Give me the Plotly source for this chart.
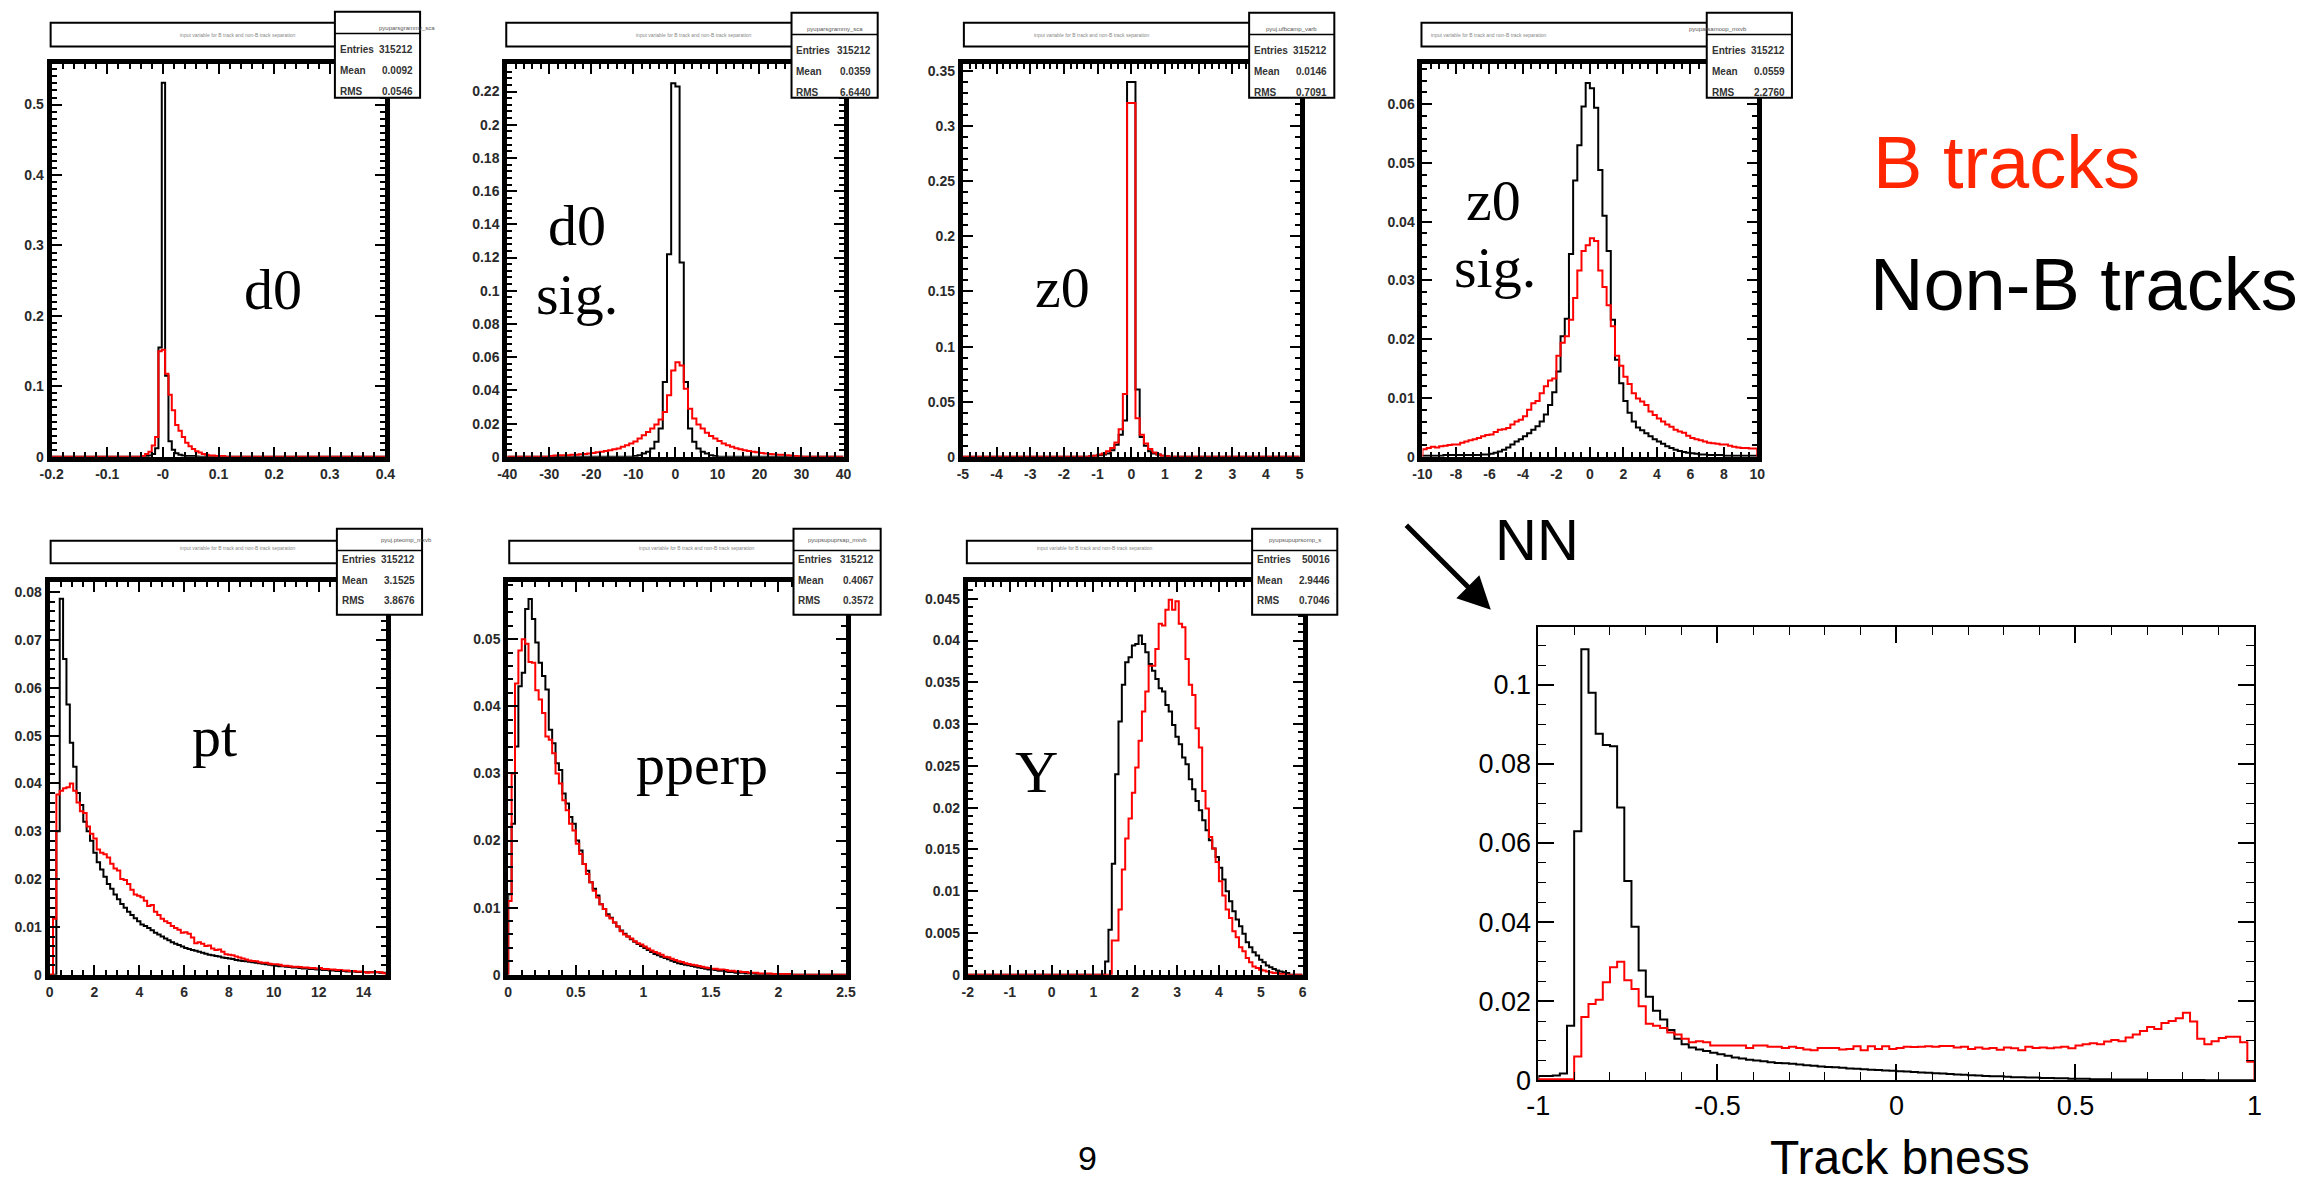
import plotly.graph_objects as go

W, H = 2316, 1193

# ---------------- data (normalised histograms, Non-B = black, B = red) ----------------
# d0 : bins of width 0.006 starting at -0.038
d0_start, d0_width = -0.038, 0.006
d0_nonb = [0, 0.001, 0.002, 0.004, 0.012, 0.155, 0.531, 0.115, 0.022, 0.01, 0.005, 0.003, 0.002,
           0.001, 0.001, 0.001, 0.0005, 0, 0, 0, 0, 0, 0, 0, 0]
d0_b = [0.001, 0.004, 0.007, 0.016, 0.028, 0.15, 0.152, 0.118, 0.088, 0.066, 0.045, 0.037, 0.028,
        0.02, 0.015, 0.011, 0.008, 0.006, 0.004, 0.003, 0.002, 0.002, 0.001, 0.001, 0.001]

# d0 significance : bins of width 1 starting at -30
d0sig_start, d0sig_width = -30, 1
d0sig_nonb = [0] * 20 + [0.0005, 0.001, 0.002, 0.003, 0.005, 0.009, 0.017, 0.045, 0.122, 0.225,
                         0.223, 0.117, 0.045, 0.017, 0.009, 0.005, 0.003, 0.002, 0.001, 0.0005] + [0] * 20
d0sig_b = [0.0005, 0.0008, 0.001, 0.001, 0.001, 0.0012, 0.0013, 0.0015, 0.0017, 0.002,
           0.0023, 0.0027, 0.003, 0.0035, 0.004, 0.0045, 0.005, 0.006, 0.007, 0.008,
           0.0092, 0.011, 0.013, 0.015, 0.017, 0.0195, 0.0225, 0.027, 0.037, 0.052,
           0.057, 0.055, 0.041, 0.029, 0.023, 0.0195, 0.017, 0.0145, 0.0125, 0.011,
           0.0095, 0.008, 0.007, 0.006, 0.0052, 0.0045, 0.004, 0.0035, 0.003, 0.0027,
           0.0023, 0.002, 0.0017, 0.0015, 0.0013, 0.0012, 0.001, 0.0008, 0.0005, 0.0003]

# z0 : bins of width 0.125 starting at -1.25
z0_start, z0_width = -1.25, 0.125
z0_nonb = [0.0005, 0.001, 0.0015, 0.002, 0.003, 0.006, 0.011, 0.02, 0.033, 0.34,
           0.34, 0.061, 0.018, 0.01, 0.005, 0.003, 0.002, 0.001, 0.0005, 0]
z0_b = [0.0005, 0.001, 0.002, 0.003, 0.005, 0.008, 0.013, 0.025, 0.057, 0.321,
        0.321, 0.035, 0.02, 0.012, 0.007, 0.004, 0.002, 0.001, 0.0005, 0]

# z0 significance : bins of width 0.25 starting at -10
z0sig_start, z0sig_width = -10, 0.25
z0sig_nonb = [0.0002, 0.0002, 0.0002, 0.0002, 0.0002, 0.0003, 0.0003, 0.0003, 0.0003, 0.0003,
              0.0003, 0.0003, 0.0003, 0.0003, 0.0004, 0.0004, 0.0005, 0.0007, 0.0009, 0.0012,
              0.0016, 0.0021, 0.0026, 0.003, 0.0035, 0.004, 0.0046, 0.0052, 0.006, 0.0072,
              0.0088, 0.011, 0.0145, 0.0205, 0.0235, 0.0345, 0.047, 0.053, 0.0596, 0.0636,
              0.0627, 0.0594, 0.0488, 0.041, 0.035, 0.0233, 0.0165, 0.0125, 0.0095, 0.0075,
              0.006, 0.005, 0.0045, 0.004, 0.0035, 0.003, 0.0026, 0.0022, 0.0018, 0.0015,
              0.0012, 0.001, 0.0008, 0.0007, 0.0006, 0.0005, 0.0004, 0.0004, 0.0003, 0.0003,
              0.0003, 0.0003, 0.0002, 0.0002, 0.0002, 0.0002, 0.0002, 0.0002, 0.0002, 0.0002]
z0sig_b = [0.0013, 0.0015, 0.0017, 0.0016, 0.0018, 0.0019, 0.002, 0.0021, 0.0021, 0.0024,
           0.0026, 0.0028, 0.003, 0.0032, 0.0035, 0.0037, 0.0038, 0.0042, 0.0046, 0.0047,
           0.0049, 0.0055, 0.006, 0.0063, 0.0069, 0.008, 0.0091, 0.0095, 0.0108, 0.012,
           0.013, 0.0133, 0.0172, 0.0194, 0.0205, 0.0233, 0.027, 0.0317, 0.035, 0.036,
           0.0372, 0.0367, 0.0317, 0.0289, 0.0258, 0.0222, 0.0172, 0.0155, 0.0136, 0.0124,
           0.0108, 0.0099, 0.0094, 0.0088, 0.0077, 0.0071, 0.0065, 0.006, 0.0055, 0.0051,
           0.0046, 0.0043, 0.0041, 0.0036, 0.0032, 0.003, 0.0028, 0.0026, 0.0024, 0.0023,
           0.0022, 0.0021, 0.0021, 0.0019, 0.0017, 0.0016, 0.0015, 0.0015, 0.0014, 0.0014]

# pt : bins of width 0.15 starting at 0
pt_start, pt_width = 0, 0.15
pt_nonb = [0, 0, 0.030, 0.0786, 0.066, 0.0565, 0.0485, 0.0435, 0.038, 0.0355,
           0.032, 0.030, 0.028, 0.0255, 0.0235, 0.022, 0.0205, 0.019, 0.018, 0.0168,
           0.0158, 0.0148, 0.014, 0.0132, 0.0125, 0.0118, 0.0112, 0.0105, 0.0102, 0.0098,
           0.0093, 0.0088, 0.0084, 0.008, 0.0076, 0.0072, 0.0068, 0.0065, 0.0062, 0.0059,
           0.0056, 0.0054, 0.0052, 0.005, 0.0048, 0.0046, 0.0044, 0.0042, 0.0041, 0.0039,
           0.0038, 0.0036, 0.0035, 0.0034, 0.0033, 0.0031, 0.003, 0.0029, 0.0028, 0.0027,
           0.0026, 0.0025, 0.0024, 0.0023, 0.0022, 0.0021, 0.002, 0.0019, 0.0018, 0.0018,
           0.0017, 0.0016, 0.0015, 0.0015, 0.0014, 0.0013, 0.0013, 0.0012, 0.0012, 0.0011,
           0.0011, 0.001, 0.001, 0.0009, 0.0009, 0.0008, 0.0008, 0.0008, 0.0007, 0.0007,
           0.0007, 0.0006, 0.0006, 0.0006, 0.0005, 0.0005, 0.0005, 0.0005, 0.0004, 0.0004]
pt_b = [0, 0.0117, 0.0377, 0.0385, 0.039, 0.0392, 0.040, 0.0385, 0.036, 0.0342,
        0.0338, 0.031, 0.0295, 0.0285, 0.0262, 0.0255, 0.0252, 0.0245, 0.0232, 0.0222,
        0.0218, 0.0200, 0.0198, 0.019, 0.0178, 0.0168, 0.0165, 0.0162, 0.0155, 0.0144,
        0.0146, 0.0132, 0.0125, 0.0117, 0.0112, 0.0108, 0.0102, 0.0098, 0.0094, 0.0088,
        0.0089, 0.0086, 0.0078, 0.0066, 0.0068, 0.0065, 0.006, 0.0061, 0.0055, 0.0052,
        0.0053, 0.0048, 0.0043, 0.0042, 0.0041, 0.0038, 0.0036, 0.0034, 0.0032, 0.003,
        0.0029, 0.0028, 0.0026, 0.0025, 0.0025, 0.0023, 0.0022, 0.0022, 0.0021, 0.0019,
        0.0019, 0.0018, 0.0017, 0.0017, 0.0016, 0.0015, 0.0015, 0.0014, 0.0014, 0.0013,
        0.0014, 0.0012, 0.0012, 0.0011, 0.0011, 0.001, 0.001, 0.0009, 0.0009, 0.0008,
        0.0008, 0.0007, 0.0007, 0.0006, 0.0004, 0.0005, 0.0005, 0.0006, 0.0005, 0.0003]

# pperp : bins of width 0.025 starting at 0
pperp_start, pperp_width = 0, 0.025
pperp_nonb = [0.012, 0.0225, 0.034, 0.043, 0.045, 0.0545, 0.056, 0.053, 0.0495, 0.0465,
              0.0445, 0.0425, 0.0365, 0.0345, 0.0315, 0.0305, 0.027, 0.0255, 0.0235, 0.0225,
              0.020, 0.0185, 0.0165, 0.0155, 0.0138, 0.0128, 0.0118, 0.0105, 0.0098, 0.009,
              0.0085, 0.0078, 0.0072, 0.0066, 0.0061, 0.0057, 0.0053, 0.0049, 0.0046, 0.0043,
              0.004, 0.0037, 0.0034, 0.0031, 0.0029, 0.0027, 0.0025, 0.0023, 0.0021, 0.0019,
              0.0017, 0.0016, 0.0015, 0.0014, 0.0013, 0.0012, 0.0011, 0.001, 0.0009, 0.0008,
              0.0008, 0.0007, 0.0006, 0.0006, 0.0005, 0.0004, 0.0004, 0.0003, 0.0003, 0.0003,
              0.0002, 0.0002, 0.0002, 0.0001, 0.0001, 0.0001, 0.0001, 0.0001, 0.0001, 0.0001,
              0, 0, 0, 0, 0, 0, 0, 0, 0, 0, 0, 0, 0, 0, 0, 0, 0, 0, 0, 0]
pperp_b = [0.011, 0.03, 0.0434, 0.0483, 0.050, 0.0493, 0.0466, 0.0465, 0.0424, 0.041,
           0.039, 0.0355, 0.035, 0.033, 0.030, 0.0285, 0.026, 0.0245, 0.0225, 0.0215,
           0.0195, 0.018, 0.0165, 0.015, 0.0138, 0.0125, 0.0115, 0.0105, 0.0098, 0.0088,
           0.0084, 0.0078, 0.0072, 0.0065, 0.006, 0.0057, 0.0054, 0.005, 0.0047, 0.0045,
           0.0042, 0.0039, 0.0036, 0.0034, 0.0032, 0.003, 0.0027, 0.0026, 0.0024, 0.0022,
           0.002, 0.0019, 0.0017, 0.0016, 0.0015, 0.0014, 0.0013, 0.0012, 0.0011, 0.001,
           0.0009, 0.0009, 0.0008, 0.0008, 0.0007, 0.0006, 0.0006, 0.0005, 0.0005, 0.0004,
           0.0004, 0.0003, 0.0003, 0.0003, 0.0002, 0.0002, 0.0002, 0.0002, 0.0001, 0.0001,
           0.0001, 0.0001, 0.0001, 0.0001, 0, 0, 0, 0, 0, 0, 0, 0, 0, 0, 0, 0, 0, 0, 0, 0]

# Y : bins of width 0.08 starting at -2
Y_start, Y_width = -2, 0.08
Y_nonb = [0] * 41 + [0.0016, 0.0054, 0.0133, 0.024, 0.0303, 0.0347, 0.0374, 0.038, 0.0394, 0.0396,
                     0.0406, 0.0396, 0.0386, 0.0372, 0.0364, 0.0354, 0.0343, 0.0339, 0.0323, 0.0315,
                     0.0299, 0.0285, 0.0276, 0.026, 0.0252, 0.0234, 0.0222, 0.0208, 0.0197, 0.0185,
                     0.0173, 0.0161, 0.0151, 0.0141, 0.0128, 0.0114, 0.01, 0.0088, 0.0076, 0.0066,
                     0.0058, 0.0049, 0.0039, 0.0033, 0.0027, 0.0023, 0.0018, 0.0015, 0.0011, 0.0009,
                     0.0007, 0.0005, 0.0004, 0.0003, 0.0002] + [0] * 4
Y_b = [0] * 43 + [0.0041, 0.0041, 0.0078, 0.0126, 0.0163, 0.0187, 0.0218, 0.0248, 0.028, 0.0315,
                  0.0339, 0.037, 0.037, 0.039, 0.042, 0.0418, 0.0437, 0.0449, 0.0437, 0.0447,
                  0.042, 0.0416, 0.0378, 0.0347, 0.0335, 0.0295, 0.0272, 0.022, 0.0199, 0.0165,
                  0.0151, 0.0135, 0.0112, 0.0095, 0.0078, 0.0068, 0.0052, 0.0045, 0.0033, 0.0028,
                  0.002, 0.0015, 0.001, 0.0008, 0.0006, 0.0005, 0.0004, 0.0003, 0.0002, 0.0002,
                  0.0001, 0.0001] + [0] * 5

# Track bness (NN output) : bins of width 0.02 starting at -1
bness_start, bness_width = -1, 0.02
bness_nonb = [0.0011, 0.0011, 0.0012, 0.0017, 0.0138, 0.063, 0.109, 0.098, 0.0876, 0.0848,
              0.0845, 0.069, 0.0504, 0.0388, 0.0278, 0.0211, 0.0176, 0.0154, 0.0127, 0.0105,
              0.0091, 0.0083, 0.0078, 0.0074, 0.007, 0.0066, 0.0062, 0.0058, 0.0055, 0.0052,
              0.005, 0.0048, 0.0046, 0.0044, 0.0043, 0.0042, 0.004, 0.0038, 0.0037, 0.0035,
              0.0034, 0.0033, 0.0032, 0.003, 0.0029, 0.0028, 0.0027, 0.0026, 0.0025, 0.0024,
              0.0023, 0.0022, 0.0021, 0.002, 0.0019, 0.0018, 0.0017, 0.0016, 0.0015, 0.0014,
              0.0013, 0.0012, 0.0011, 0.001, 0.001, 0.0009, 0.0008, 0.0008, 0.0007, 0.0007,
              0.0006, 0.0006, 0.0005, 0.0005, 0.0004, 0.0004, 0.0004, 0.0003, 0.0003, 0.0003,
              0.0002, 0.0002, 0.0002, 0.0002, 0.0002, 0.0001, 0.0001, 0.0001, 0.0001, 0.0001,
              0.0001, 0.0001, 0.0001, 0, 0, 0, 0, 0, 0, 0]
bness_b = [0.0003, 0.0003, 0.0003, 0.0003, 0.0003, 0.006, 0.016, 0.0193, 0.0204, 0.0248,
           0.0286, 0.03, 0.0253, 0.0231, 0.0187, 0.0143, 0.0138, 0.0132, 0.0121, 0.0116,
           0.0105, 0.0096, 0.0099, 0.0096, 0.0088, 0.0088, 0.0088, 0.0088, 0.0088, 0.0082,
           0.0088, 0.0088, 0.0085, 0.0085, 0.0082, 0.0085, 0.0082, 0.0078, 0.0076, 0.0082,
           0.0082, 0.0082, 0.0078, 0.0079, 0.0086, 0.0076, 0.0086, 0.0079, 0.0086, 0.0079,
           0.0082, 0.0085, 0.0084, 0.0085, 0.0086, 0.0085, 0.0087, 0.0087, 0.0083, 0.0085,
           0.0079, 0.0083, 0.008, 0.0082, 0.0077, 0.0083, 0.0081, 0.0076, 0.0085, 0.0082,
           0.0083, 0.0081, 0.0083, 0.0085, 0.0081, 0.0088, 0.0091, 0.0094, 0.0091, 0.0098,
           0.0102, 0.0099, 0.0108, 0.0116, 0.0125, 0.0135, 0.013, 0.0145, 0.015, 0.0157,
           0.0171, 0.0149, 0.0105, 0.0091, 0.0099, 0.0107, 0.011, 0.011, 0.0096, 0.0047]

# tick labels
d0_xticks = [-0.2, -0.1, 0, 0.1, 0.2, 0.3, 0.4]
d0_xlabels = ["-0.2", "-0.1", "-0", "0.1", "0.2", "0.3", "0.4"]
d0sig_xticks = [-40, -30, -20, -10, 0, 10, 20, 30, 40]
d0sig_xlabels = ["-40", "-30", "-20", "-10", "0", "10", "20", "30", "40"]
z0_xticks = [-5, -4, -3, -2, -1, 0, 1, 2, 3, 4, 5]
z0_xlabels = ["-5", "-4", "-3", "-2", "-1", "0", "1", "2", "3", "4", "5"]
z0sig_xticks = [-10, -8, -6, -4, -2, 0, 2, 4, 6, 8, 10]
z0sig_xlabels = ["-10", "-8", "-6", "-4", "-2", "0", "2", "4", "6", "8", "10"]
pt_xticks = [0, 2, 4, 6, 8, 10, 12, 14]
pt_xlabels = ["0", "2", "4", "6", "8", "10", "12", "14"]
pperp_xticks = [0, 0.5, 1, 1.5, 2, 2.5]
pperp_xlabels = ["0", "0.5", "1", "1.5", "2", "2.5"]
Y_xticks = [-2, -1, 0, 1, 2, 3, 4, 5, 6]
Y_xlabels = ["-2", "-1", "0", "1", "2", "3", "4", "5", "6"]
bness_xticks = [-1, -0.5, 0, 0.5, 1]
bness_xlabels = ["-1", "-0.5", "0", "0.5", "1"]

# statistics boxes
stat_names = ["pyuparsgrammy_sca", "pyuparsgrammy_sca", "pyuj.ufbcamp_varb", "pyuparsamoop_mxvb",
              "pyuj.pteomp_mxvb", "pyupsupuprsap_mxvb", "pyupsupuprsomp_s"]
stat_entries = ["315212", "315212", "315212", "315212", "315212", "315212", "50016"]
stat_means = ["0.0092", "0.0359", "0.0146", "0.0559", "3.1525", "0.4067", "2.9446"]
stat_rms = ["0.0546", "6.6440", "0.7091", "2.2760", "3.8676", "0.3572", "0.7046"]

# ---------------- helpers ----------------
def fx(x):
    return x / W


def fy(y):
    return 1 - y / H


def steps(start, width, vals, lo, hi):
    xs, ys = [lo], [0]
    for i, v in enumerate(vals):
        xs.append(start + i * width)
        ys.append(v)
    xs.append(start + len(vals) * width)
    ys.append(0)
    xs.append(hi)
    ys.append(0)
    return xs, ys


# panel layout: (pixel box left,right,top,bottom), x range, y range, ticks
panels = [
    dict(box=(40, 377, 64, 462), xr=[-0.2, 0.4], yr=[0, 0.5574], xt=d0_xticks, xl=d0_xlabels, xm=0.02, yd=0.1, ym=0.01,
         data=(d0_start, d0_width, d0_nonb, d0_b)),
    dict(box=(500, 839.5, 64, 462), xr=[-40, 40], yr=[0, 0.2365], xt=d0sig_xticks, xl=d0sig_xlabels, xm=2, yd=0.02, ym=0.004,
         data=(d0sig_start, d0sig_width, d0sig_nonb, d0sig_b)),
    dict(box=(960, 1300, 64, 462), xr=[-5, 5], yr=[0, 0.3563], xt=z0_xticks, xl=z0_xlabels, xm=0.2, yd=0.05, ym=0.01,
         data=(z0_start, z0_width, z0_nonb, z0_b)),
    dict(box=(1424, 1762, 64, 462), xr=[-10, 10], yr=[0, 0.0668], xt=z0sig_xticks, xl=z0sig_xlabels, xm=0.5, yd=0.01, ym=0.002,
         data=(z0sig_start, z0sig_width, z0sig_nonb, z0sig_b)),
    dict(box=(38, 377.5, 589, 987), xr=[0, 15], yr=[0, 0.0821], xt=pt_xticks, xl=pt_xlabels, xm=0.5, yd=0.01, ym=0.002,
         data=(pt_start, pt_width, pt_nonb, pt_b)),
    dict(box=(501, 842, 589, 987), xr=[0, 2.5], yr=[0, 0.0585], xt=pperp_xticks, xl=pperp_xlabels, xm=0.1, yd=0.01, ym=0.002,
         data=(pperp_start, pperp_width, pperp_nonb, pperp_b)),
    dict(box=(965, 1303, 589, 987), xr=[-2, 6], yr=[0, 0.047], xt=Y_xticks, xl=Y_xlabels, xm=0.2, yd=0.005, ym=0.001,
         data=(Y_start, Y_width, Y_nonb, Y_b)),
    dict(box=(1541, 2264, 635, 1094), xr=[-1, 1], yr=[0, 0.1145], xt=bness_xticks, xl=bness_xlabels, xm=0.1, yd=0.02, ym=0.005,
         data=(bness_start, bness_width, bness_nonb, bness_b)),
]

fig = go.Figure()
layout = dict(width=W, height=H, margin=dict(l=0, r=0, t=0, b=0), autosize=False,
              paper_bgcolor="white", plot_bgcolor="white", showlegend=False)

for k, p in enumerate(panels):
    n = k + 1
    xa = "x" if n == 1 else f"x{n}"
    ya = "y" if n == 1 else f"y{n}"
    big = (n == 8)
    l, r, t, b = p["box"]
    start, width, nonb, bb = p["data"]
    for vals, col in ((nonb, "black"), (bb, "#ff0000")):
        xs, ys = steps(start, width, vals, p["xr"][0], p["xr"][1])
        fig.add_trace(go.Scatter(x=xs, y=ys, mode="lines", line=dict(color=col, width=2, shape="hv"),
                                 xaxis=xa, yaxis=ya, hoverinfo="skip"))
    lw = 2 if big else 5
    tl, ml = (16, 8) if big else (10, 5)
    tfont = dict(family="Liberation Sans", size=27, color="black") if big else \
        dict(family="Liberation Sans", size=14, color="#2a2a2a", weight="bold")
    xkey = "xaxis" if n == 1 else f"xaxis{n}"
    ykey = "yaxis" if n == 1 else f"yaxis{n}"
    layout[xkey] = dict(domain=[fx(l), fx(r)], range=p["xr"], anchor=ya, showgrid=False, zeroline=False,
                        showline=True, linewidth=lw, linecolor="black", mirror="ticks",
                        ticks="inside", ticklen=tl, tickwidth=2 if not big else 1.5, tickcolor="black",
                        tickmode="array", tickvals=p["xt"], ticktext=p["xl"], tickfont=tfont,
                        minor=dict(ticks="inside", ticklen=ml, tickwidth=1.5 if not big else 1.2, tickcolor="black",
                                   tickmode="linear", tick0=0, dtick=p["xm"], showgrid=False),
                        fixedrange=True)
    layout[ykey] = dict(domain=[fy(b), fy(t)], range=p["yr"], anchor=xa, showgrid=False, zeroline=False,
                        showline=True, linewidth=lw, linecolor="black", mirror="ticks",
                        ticks="inside", ticklen=tl, tickwidth=2 if not big else 1.5, tickcolor="black",
                        tickmode="linear", tick0=0, dtick=p["yd"], tickfont=tfont,
                        minor=dict(ticks="inside", ticklen=ml, tickwidth=1.5 if not big else 1.2, tickcolor="black",
                                   tickmode="linear", tick0=0, dtick=p["ym"], showgrid=False),
                        fixedrange=True)

# ---------------- ROOT title boxes and stat boxes ----------------
shapes = []
annotations = []

title_boxes = [(39, 336, 22, 46), (499, 796, 22, 46), (961, 1259, 22, 46), (1423, 1720, 22, 46),
               (39, 337, 547, 570), (502, 800, 547, 570), (964, 1262, 547, 570)]
stat_boxes = [(326, 412, 11, 98), (787, 874, 12, 98), (1249, 1335, 12, 98), (1711, 1797, 12, 98),
              (328, 414, 535, 622), (789, 877, 535, 622), (1252, 1338, 535, 622)]

for i, (l, r, t, b) in enumerate(title_boxes):
    shapes.append(dict(type="rect", xref="paper", yref="paper", x0=fx(l), x1=fx(r), y0=fy(b), y1=fy(t),
                       line=dict(color="black", width=2), fillcolor="white", layer="above"))
    annotations.append(dict(xref="paper", yref="paper", x=fx((l + r) / 2 - 20), y=fy(t + 7), showarrow=False,
                            text="input variable for B track and non-B track separation",
                            font=dict(family="Liberation Sans", size=5, color="#888888")))

for i, (l, r, t, b) in enumerate(stat_boxes):
    shapes.append(dict(type="rect", xref="paper", yref="paper", x0=fx(l), x1=fx(r), y0=fy(b), y1=fy(t),
                       line=dict(color="black", width=2), fillcolor="white", layer="above"))
    shapes.append(dict(type="line", xref="paper", yref="paper", x0=fx(l), x1=fx(r), y0=fy(t + 22), y1=fy(t + 22),
                       line=dict(color="black", width=1.5), layer="above"))
    sf = dict(family="Liberation Sans", size=10, color="#333333", weight="bold")
    annotations.append(dict(xref="paper", yref="paper", x=fx((l + r) / 2), y=fy(t + 11), showarrow=False,
                            text=stat_names[i], font=dict(family="Liberation Sans", size=6, color="#555555")))
    rows = [("Entries", stat_entries[i]), ("Mean", stat_means[i]), ("RMS", stat_rms[i])]
    for j, (lab, val) in enumerate(rows):
        yy = t + 31 + 21 * j
        annotations.append(dict(xref="paper", yref="paper", x=fx(l + 3), y=fy(yy), xanchor="left",
                                showarrow=False, text=lab, font=sf))
        annotations.append(dict(xref="paper", yref="paper", x=fx(r - 5), y=fy(yy), xanchor="right",
                                showarrow=False, text=val, font=sf))

# ---------------- slide texts ----------------
serif = "Liberation Serif"
sans = "Liberation Sans"


def label(x, y, s, size, family, color="black", xanchor="center"):
    annotations.append(dict(xref="paper", yref="paper", x=fx(x), y=fy(y), xanchor=xanchor, yanchor="middle",
                            showarrow=False, text=s, font=dict(family=family, size=size, color=color)))


label(263, 292, "d0", 58, serif)
label(570, 228, "d0", 58, serif)
label(570, 297, "sig.", 58, serif)
label(1061, 290, "z0", 58, serif)
label(1496, 202, "z0", 58, serif)
label(1497, 270, "sig.", 58, serif)
label(204, 745, "pt", 58, serif)
label(697, 774, "pperp", 58, serif)
label(1034, 781, "Y", 60, serif)

label(1877, 164, "B tracks", 74, sans, color="#ff2600", xanchor="left")
label(1874, 287, "Non-B tracks", 74, sans, xanchor="left")
label(1495, 546, "NN", 58, sans, xanchor="left")
label(1906, 1172, "Track bness", 48, sans)
label(1086, 1173, "9", 34, sans)

annotations.append(dict(xref="paper", yref="paper", x=fx(1493), y=fy(617), ax=-86, ay=-86,
                        axref="pixel", ayref="pixel", showarrow=True, arrowhead=2, arrowsize=1.3,
                        arrowwidth=5, arrowcolor="black", text=""))

layout["shapes"] = shapes
layout["annotations"] = annotations
fig.update_layout(**layout)
fig.write_html("out.html")
